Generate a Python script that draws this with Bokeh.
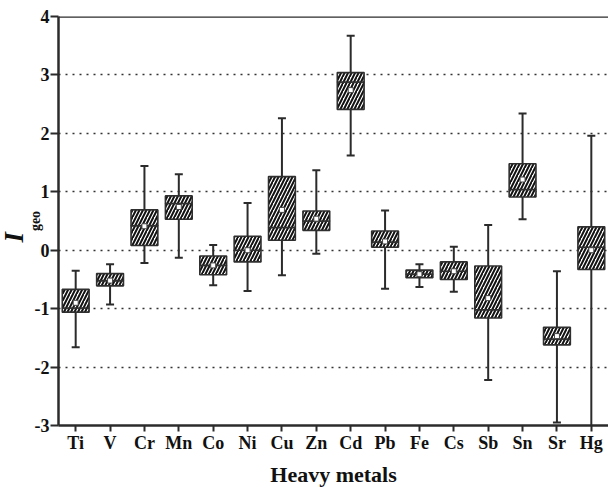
import numpy as np
from bokeh.plotting import figure
from bokeh.models import ColumnDataSource, FactorRange, Range1d, FixedTicker, Span, Title
from bokeh.embed import file_html
from bokeh.resources import INLINE

metals = ["Ti", "V", "Cr", "Mn", "Co", "Ni", "Cu", "Zn", "Cd", "Pb", "Fe", "Cs", "Sb", "Sn", "Sr", "Hg"]
whisker_low = [-1.66, -0.93, -0.22, -0.13, -0.60, -0.70, -0.43, -0.06, 1.62, -0.66, -0.63, -0.71, -2.22, 0.53, -2.95, -3.10]
whisker_high = [-0.35, -0.24, 1.44, 1.30, 0.09, 0.81, 2.26, 1.37, 3.67, 0.68, -0.24, 0.06, 0.43, 2.34, -0.36, 1.96]
q1 = [-1.06, -0.61, 0.08, 0.53, -0.42, -0.20, 0.17, 0.34, 2.41, 0.05, -0.47, -0.50, -1.16, 0.91, -1.62, -0.33]
median = [-0.99, -0.52, 0.42, 0.80, -0.26, 0.00, 0.39, 0.50, 2.88, 0.14, -0.41, -0.36, -1.02, 1.04, -1.52, 0.05]
q3 = [-0.67, -0.40, 0.69, 0.93, -0.10, 0.24, 1.26, 0.67, 3.04, 0.33, -0.34, -0.20, -0.27, 1.48, -1.32, 0.40]
mean = [-0.90, -0.52, 0.41, 0.74, -0.26, 0.00, 0.69, 0.54, 2.74, 0.15, -0.41, -0.36, -0.82, 1.21, -1.47, 0.00]
y_ticks = [-3, -2, -1, 0, 1, 2, 3, 4]

src = ColumnDataSource(dict(metal=metals, wlo=whisker_low, whi=whisker_high,
                            q1=q1, med=median, q3=q3, mean=mean))

FONT = "Liberation Serif"
DARK = "#2b2b2b"

p = figure(width=608, height=489, output_backend="svg", toolbar_location=None,
           x_range=FactorRange(*metals), y_range=Range1d(-3, 4),
           min_border_left=0, min_border_top=16, min_border_right=0, min_border_bottom=0)
p.outline_line_color = None
p.background_fill_color = "white"
p.border_fill_color = "white"

# grid
p.xgrid.grid_line_color = None
p.ygrid.grid_line_color = "#333333"
p.ygrid.grid_line_dash = "2 5"
p.ygrid.grid_line_width = 1.5

# axes
p.yaxis.ticker = FixedTicker(ticks=y_ticks)
p.yaxis.major_label_overrides = {t: str(t) for t in y_ticks}
for ax in (p.xaxis[0], p.yaxis[0]):
    ax.axis_line_width = 2.5
    ax.axis_line_color = DARK
    ax.major_tick_line_width = 2
    ax.major_tick_line_color = DARK
    ax.major_tick_in = 0
    ax.minor_tick_line_color = None
    ax.major_label_text_font = FONT
    ax.major_label_text_font_style = "bold"
    ax.major_label_text_font_size = "18px"
    ax.major_label_text_color = "#111111"
p.yaxis.major_tick_out = 8
p.yaxis.major_label_standoff = 1
# subscript part of the y label sits next to the axis
p.yaxis.axis_label = "geo"
p.yaxis.axis_label_text_font = FONT
p.yaxis.axis_label_text_font_style = "bold"
p.yaxis.axis_label_text_font_size = "14px"
p.yaxis.axis_label_text_color = "#111111"
p.yaxis.axis_label_standoff = -11
p.xaxis.major_tick_out = 6
p.xaxis.major_label_standoff = 1
p.xaxis.axis_label = "Heavy metals"
p.xaxis.axis_label_text_font = FONT
p.xaxis.axis_label_text_font_style = "bold"
p.xaxis.axis_label_text_font_size = "22px"
p.xaxis.axis_label_text_color = "#111111"
p.xaxis.axis_label_standoff = 6

# main letter of the y label
p.add_layout(Title(text="I", align="left", offset=183, standoff=-8,
                   text_font=FONT, text_font_style="bold italic", text_font_size="27px",
                   text_color="#111111"), "left")

# top border line
p.add_layout(Span(location=4, dimension="width", line_color=DARK, line_width=2.5))

# whiskers
p.segment(x0="metal", y0="wlo", x1="metal", y1="whi", source=src, line_color=DARK, line_width=2)
p.scatter(x="metal", y="wlo", source=src, marker="dash", size=8, line_color=DARK, line_width=2)
p.scatter(x="metal", y="whi", source=src, marker="dash", size=8, line_color=DARK, line_width=2)

# boxes (two hatched halves)
box_kw = dict(width=0.78, source=src, fill_color="white", hatch_pattern="/", hatch_color="#111111",
              hatch_weight=2.0, hatch_scale=7, line_color="#2f2f2f", line_width=1.6)
p.vbar(x="metal", bottom="q1", top="med", **box_kw)
p.vbar(x="metal", bottom="med", top="q3", **box_kw)

# mean markers
p.scatter(x="metal", y="mean", source=src, marker="square", size=5, fill_color="white",
          line_color="#444444", line_width=1)

open("out.html", "w").write(file_html(p, INLINE))
